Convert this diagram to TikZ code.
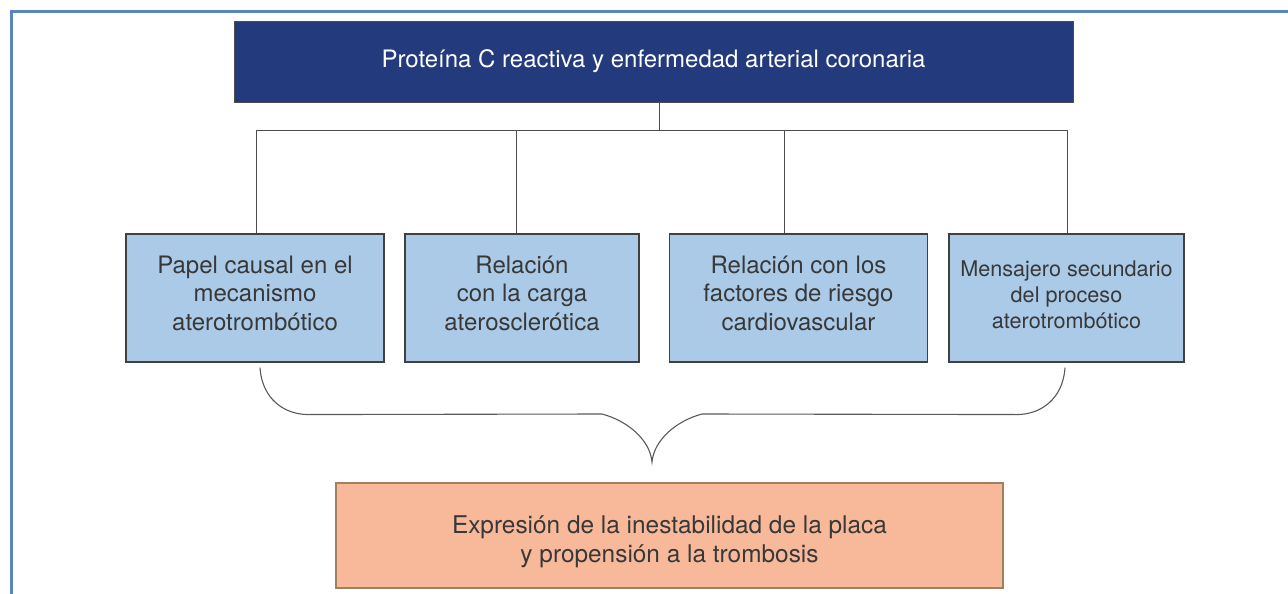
\documentclass[tikz,border=0pt]{standalone}
\usepackage{fontspec}
\setmainfont{TeX Gyre Heros}
\usetikzlibrary{calc}

\definecolor{navy}{HTML}{233A7D}
\definecolor{paleblue}{HTML}{AACAE8}
\definecolor{salmon}{HTML}{F8B99B}
\definecolor{framecol}{HTML}{5A86C0}
\definecolor{txtgray}{HTML}{383838}

\tikzset{
    topbox/.style={draw=gray!60!black, fill=navy, text=white, line width=0.8pt,
        minimum width=839, minimum height=81, inner sep=0pt,
        font=\fontsize{24}{28}\selectfont},
    itembox/.style={draw=black!75, fill=paleblue, text=txtgray, line width=1.1pt,
        minimum height=128, inner sep=0pt, align=center,
        font=\fontsize{24}{28.5}\selectfont},
    resultbox/.style={draw=brown!50!gray, fill=salmon, text=txtgray, line width=1.3pt,
        minimum width=667, minimum height=105, inner sep=0pt, align=center,
        font=\fontsize{24.4}{29}\selectfont},
    link/.style={draw=black!70, line width=0.9pt},
}

\begin{document}
\begin{tikzpicture}[x=1pt, y=-1pt]
        \useasboundingbox (0,0) rectangle (1288,594);
        % outer frame, only the top and left sides are seen
        \draw[framecol, line width=2.5pt] (11.5,620) |- (1320,11.5);

        \node[topbox] (top) at (653.5,61.5) {Proteína C reactiva y enfermedad arterial coronaria};

        \node[itembox, minimum width=258] (b1) at (255,298) {Papel causal en el\\mecanismo\\aterotrombótico\\[-18pt]};
        \node[itembox, minimum width=234] (b2) at (522,298) {Relación\\con la carga\\aterosclerótica\\[-18pt]};
        \node[itembox, minimum width=258] (b3) at (798.5,298) {Relación con los\\factores de riesgo\\cardiovascular\\[-18pt]};
        \node[itembox, minimum width=235, font=\fontsize{21.6}{26}\selectfont] (b4) at (1066.5,298) {Mensajero secundario\\del proceso\\aterotrombótico\\[-20pt]};

        \node[resultbox] (res) at (669.5,535.5) {Expresión de la inestabilidad de la placa\\y propensión a la trombosis\\[-37pt]};

        % tree lines
        \coordinate (busL) at (256,130);
        \coordinate (busR) at (1067,130);
        \draw[link] ([xshift=5.5]top.south) -- ([xshift=5.5]top.south |- busL);
        \draw[link] (busL) -- (busR);
        \foreach \b/\dx in {b1/1, b2/-6, b3/-14.5, b4/0.5}{
                \draw[link] ([xshift=\dx]\b.north) -- ([xshift=\dx]\b.north |- busL);
            }

        % brace joining the four boxes
        \coordinate (brL) at ($(b1.south)+(5,5)$);
        \coordinate (brR) at ($(b4.south)+(-1.5,5)$);
        \coordinate (tip) at (652,462);
        \draw[draw=black!65, line width=1.1pt] (brL) .. controls ($(brL)+(2,32)$) and ($(brL)+(25,47)$) .. ($(brL)+(48,47)$)
            -- (602,414) .. controls (628,421) and (650,440) .. (tip)
            .. controls (654,440) and (676,421) .. (702,414)
            -- ($(brR)+(-48,47)$) .. controls ($(brR)+(-25,47)$) and ($(brR)+(-2,32)$) .. (brR);

    \end{tikzpicture}
\end{document}
